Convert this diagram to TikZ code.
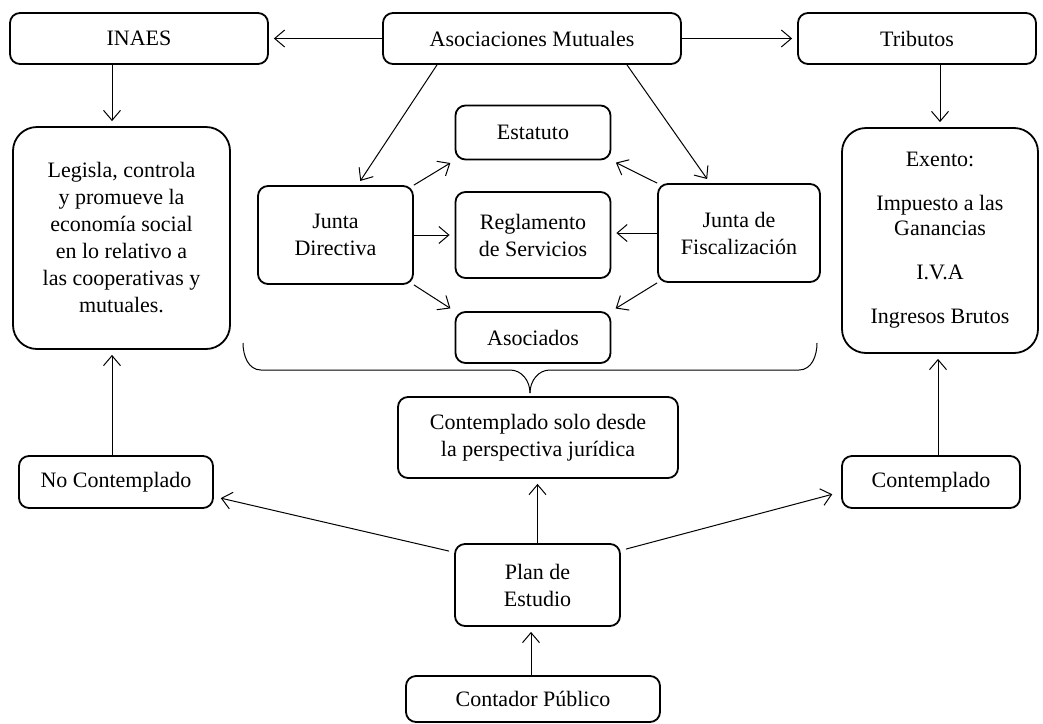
\documentclass[tikz,border=0pt]{standalone}
\usepackage{fontspec}
\setmainfont{Liberation Serif}
\usetikzlibrary{arrows.meta,calc}
\begin{document}
\begin{tikzpicture}[x=0.5pt,y=-0.5pt,
  box/.style={draw, line width=0.9pt, rounded corners=5pt, align=center, inner sep=0pt,
    font=\fontsize{11}{13.5}\selectfont},
  bigbox/.style={box, rounded corners=12pt},
  arr/.style={-{Straight Barb[length=5pt,width=8.5pt]}, line width=0.5pt, shorten >=2.5pt},
  bline/.style={line width=0.5pt}]
\useasboundingbox (0,0) rectangle (1043,723);
% top row
\node[box, minimum width=129pt, minimum height=25.5pt] (inaes) at (139,38.5) {INAES};
\node[box, minimum width=149pt, minimum height=25.5pt] (asoc) at (532,38.5) {Asociaciones Mutuales};
\node[box, minimum width=119pt, minimum height=25.5pt] (trib) at (917,38.5) {Tributos};
% side boxes
\node[bigbox, minimum width=108.5pt, minimum height=111pt] (leg) at (121.5,238)
  {Legisla, controla\\ y promueve la\\ econom\'ia social\\ en lo relativo a\\ las cooperativas y\\ mutuales.};
\node[bigbox, minimum width=98pt, minimum height=112.5pt, font=\fontsize{11}{12.5}\selectfont] (exe) at (940,240.5)
  {Exento:\\[9.5pt] Impuesto a las\\ Ganancias\\[9.5pt] I.V.A\\[9.5pt] Ingresos Brutos};
% central cluster
\node[box, minimum width=77.5pt, minimum height=27pt] (est) at (533,132.5) {Estatuto};
\node[box, minimum width=77.5pt, minimum height=49pt] (jd) at (335.5,235) {Junta\\ Directiva};
\node[box, minimum width=77.5pt, minimum height=43pt] (reg) at (533,235) {Reglamento\\ de Servicios};
\node[box, minimum width=81pt, minimum height=49pt] (jf) at (739,233) {Junta de\\ Fiscalizaci\'on};
\node[box, minimum width=77.5pt, minimum height=25.5pt] (aso) at (533,337.5) {Asociados};
% lower part
\node[box, minimum width=140pt, minimum height=40.5pt] (cs) at (538,437.5) {Contemplado solo desde\\ la perspectiva jur\'idica};
\node[box, minimum width=97pt, minimum height=26pt] (nc) at (116,482) {No Contemplado};
\node[box, minimum width=89pt, minimum height=26pt] (con) at (931,482) {Contemplado};
\node[box, minimum width=82.5pt, minimum height=41pt] (plan) at (537.5,585) {Plan de\\ Estudio};
\node[box, minimum width=127pt, minimum height=23pt] (cp) at (533,699) {Contador P\'ublico};
% brace
\coordinate (bl) at (243,343);
\coordinate (br) at (817,343);
\coordinate (bt) at (530,393);
\draw[bline] (bl) to[out=-90,in=180] ($(bl)+(18,27)$) -- ($(bt)+(-20,-23)$) to[out=0,in=90] (bt);
\draw[bline] (br) to[out=-90,in=0] ($(br)+(-18,27)$) -- ($(bt)+(20,-23)$) to[out=180,in=90] (bt);
% arrows top
\draw[arr] (asoc.west) -- (inaes.east);
\draw[arr] (asoc.east) -- (trib.west);
\draw[arr] ([xshift=-13.5pt]inaes.south) -- ([xshift=-4.75pt]leg.north);
\draw[arr] (trib.south -| exe.north) -- (exe.north);
\draw[arr] ($(asoc.south)+(-95,0)$) -- ($(jd.north)+(22,0)$);
\draw[arr] ($(asoc.south)+(95,0)$) -- ($(jf.north)+(-29,0)$);
% cluster arrows
\draw[arr] (jd.north east) -- (est.south west);
\draw[arr] (jd.east) -- (jd.east -| reg.west);
\draw[arr] (jd.south east) -- (aso.north west);
\draw[arr] (jf.north west) -- (est.south east);
\draw[arr] (jf.west) -- (jf.west -| reg.east);
\draw[arr] (jf.south west) -- (aso.north east);
% lower arrows
\draw[arr] ([xshift=-2pt]nc.north) -- ([xshift=-2pt]nc.north |- leg.south);
\draw[arr] ([xshift=-1pt]con.north -| exe.south) -- ([xshift=-1pt]exe.south);
\draw[arr] ($(plan.north west)+(-5,8)$) -- ($(nc.east)+(2,15)$);
\draw[arr] ($(plan.north east)+(5,6)$) -- ($(con.west)+(-4,11)$);
\draw[arr] (plan.north) -- (plan.north |- cs.south);
\draw[arr] ([xshift=-1pt]cp.north) -- ([xshift=-1pt]cp.north |- plan.south);
\end{tikzpicture}
\end{document}
